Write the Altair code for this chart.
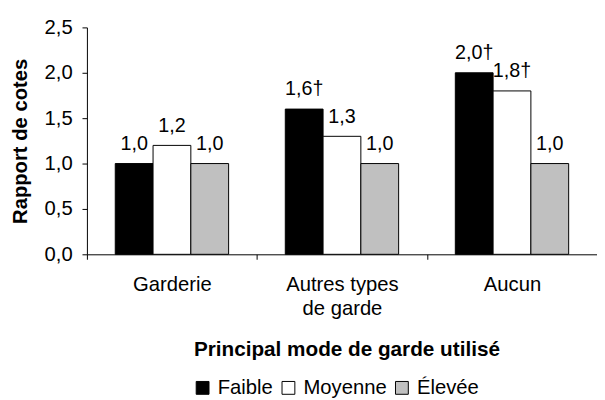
import altair as alt
import pandas as pd

categories = ["Garderie", "Autres types de garde", "Aucun"]
levels = ["Faible", "Moyenne", "Élevée"]
values = {
    "Faible": [1.0, 1.6, 2.0],
    "Moyenne": [1.2, 1.3, 1.8],
    "Élevée": [1.0, 1.0, 1.0],
}
labels = {
    "Faible": ["1,0", "1,6†", "2,0†"],
    "Moyenne": ["1,2", "1,3", "1,8†"],
    "Élevée": ["1,0", "1,0", "1,0"],
}
colors = ["#000000", "#ffffff", "#c0c0c0"]
y_ticks = [0, 0.5, 1.0, 1.5, 2.0, 2.5]

rows = []
for lev in levels:
    for i, cat in enumerate(categories):
        rows.append({"cat": cat, "niveau": lev, "val": values[lev][i], "lab": labels[lev][i]})
df = pd.DataFrame(rows)

FONT = "Liberation Sans"
FS = 20.5

x = alt.X("cat:N", sort=categories, title="Principal mode de garde utilisé",
          scale=alt.Scale(paddingInner=0, paddingOuter=0),
          axis=alt.Axis(labelAngle=0, tickBand="extent", tickSize=5, labelPadding=16,
                        labelFontSize=FS, labelLineHeight=24, titleFontSize=21,
                        titleFontWeight="bold", titlePadding=20, titleX=263,
                        labelExpr="datum.label == 'Autres types de garde' ? ['Autres types', 'de garde'] : datum.label"))
xoff = alt.XOffset("niveau:N", sort=levels, scale=alt.Scale(paddingInner=0, paddingOuter=0.75))
y = alt.Y("val:Q", title="Rapport de cotes",
          scale=alt.Scale(domain=[0, 2.5], nice=False),
          axis=alt.Axis(values=y_ticks, tickSize=5, labelPadding=10, labelFontSize=FS,
                        titleFontSize=FS, titleFontWeight="bold", titlePadding=14,
                        labelExpr="replace(format(datum.value, '.1f'), '.', ',')"))

bars = alt.Chart(df).mark_bar(stroke="black", strokeWidth=1).encode(
    x=x, xOffset=xoff, y=y,
    color=alt.Color("niveau:N", sort=levels,
                    scale=alt.Scale(domain=levels, range=colors),
                    legend=alt.Legend(title=None, orient="none", direction="horizontal",
                                      legendX=107, legendY=355, symbolType="square",
                                      symbolSize=169, symbolStrokeColor="black",
                                      symbolStrokeWidth=1, labelFontSize=FS,
                                      labelOffset=5, columnPadding=5,
                                      symbolOpacity=1)),
)

text = alt.Chart(df).mark_text(fontSize=20, baseline="middle", dy=-20, color="black").encode(
    x=x, xOffset=xoff, y=y, text="lab:N"
)

chart = alt.layer(bars, text).properties(
    width=517, height=230,
    autosize=alt.AutoSizeParams(type="none"),
    padding={"left": 80, "top": 17, "right": 0, "bottom": 145},
).configure_view(stroke=None).configure_axis(
    grid=False, domainColor="black", tickColor="black", labelColor="black",
    titleColor="black", labelFont=FONT, titleFont=FONT
).configure_legend(labelFont=FONT, labelColor="black").configure_text(font=FONT)

chart.save("out.html", embed_options={"renderer": "svg", "actions": False})
